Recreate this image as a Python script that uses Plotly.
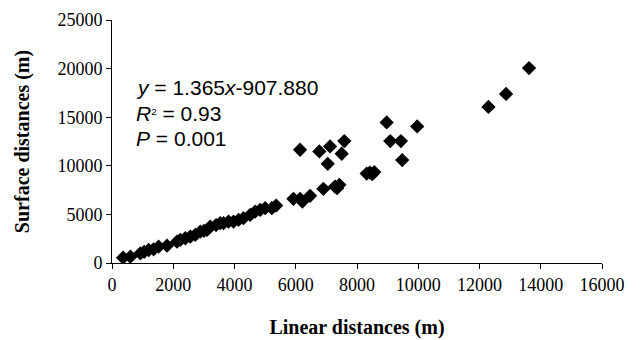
import plotly.graph_objects as go

linear_m = [362, 600, 926, 1050, 1197, 1360, 1523, 1796, 2121, 2230, 2393, 2556, 2719,
            2882, 3000, 3100, 3208, 3400, 3534, 3642, 3805, 3968, 4131, 4294, 4512, 4675,
            4838, 5001, 5219, 5360, 5925, 6142, 6217, 6468, 6902, 7283, 7350, 7424,
            8316, 8420, 8564, 8500,
            6142, 6771, 7120, 7045, 7500, 7586, 8968, 9966, 9086, 9434, 9477,
            12293, 12867, 13617]
surface_m = [546, 650, 1000, 1150, 1340, 1412, 1680, 1784, 2196, 2371, 2547, 2711, 2887,
             3227, 3300, 3402, 3743, 3900, 4093, 4093, 4258, 4258, 4433, 4608, 4949, 5289,
             5464, 5640, 5640, 5908, 6598, 6598, 6320, 6908, 7629, 7867, 7700, 8042,
             9200, 9300, 9350, 9150,
             11650, 11475, 11990, 10207, 11238, 12547, 14465, 14053, 12547, 12547, 10588,
             16053, 17393, 20050]

x_ticks = [0, 2000, 4000, 6000, 8000, 10000, 12000, 14000, 16000]
y_ticks = [0, 5000, 10000, 15000, 20000, 25000]
stats_lines = ["<i>y</i> = 1.365<i>x</i>-907.880",
               "<i>R</i><span style='font-size:14px'><sup>2</sup></span> = 0.93",
               "<i>P</i> = 0.001"]

fig = go.Figure()
fig.add_trace(go.Scatter(x=linear_m, y=surface_m, mode="markers",
                         marker=dict(symbol="diamond", size=11, color="black"),
                         showlegend=False))

serif = "Liberation Serif, Times New Roman, serif"
axis_common = dict(showline=True, linecolor="black", linewidth=1, ticks="outside",
                   ticklen=5, tickcolor="black", showgrid=False, zeroline=False,
                   automargin=False,
                   tickfont=dict(family=serif, size=18, color="black"))
fig.update_xaxes(range=[0, 16000], tickvals=x_ticks, ticktext=[str(v) for v in x_ticks],
                 title=dict(text="<b>Linear distances (m)</b>", font=dict(family=serif, size=20, color="black"), standoff=26),
                 **axis_common)
fig.update_yaxes(range=[0, 25000], tickvals=y_ticks, ticktext=[str(v) for v in y_ticks],
                 title=dict(text="<b>Surface distances (m)</b>", font=dict(family=serif, size=20, color="black"), standoff=22),
                 **axis_common)

for txt, py in zip(stats_lines, [0.724, 0.617, 0.514]):
    fig.add_annotation(text=txt, xref="paper", yref="paper", x=0.0457, y=py,
                       xanchor="left", yanchor="middle", showarrow=False,
                       font=dict(family="Liberation Sans, Arial, sans-serif", size=21, color="black"))

fig.update_layout(width=642, height=340, margin=dict(l=104, r=48, t=12, b=85),
                  plot_bgcolor="white", paper_bgcolor="white")
fig.write_html("out.html")
